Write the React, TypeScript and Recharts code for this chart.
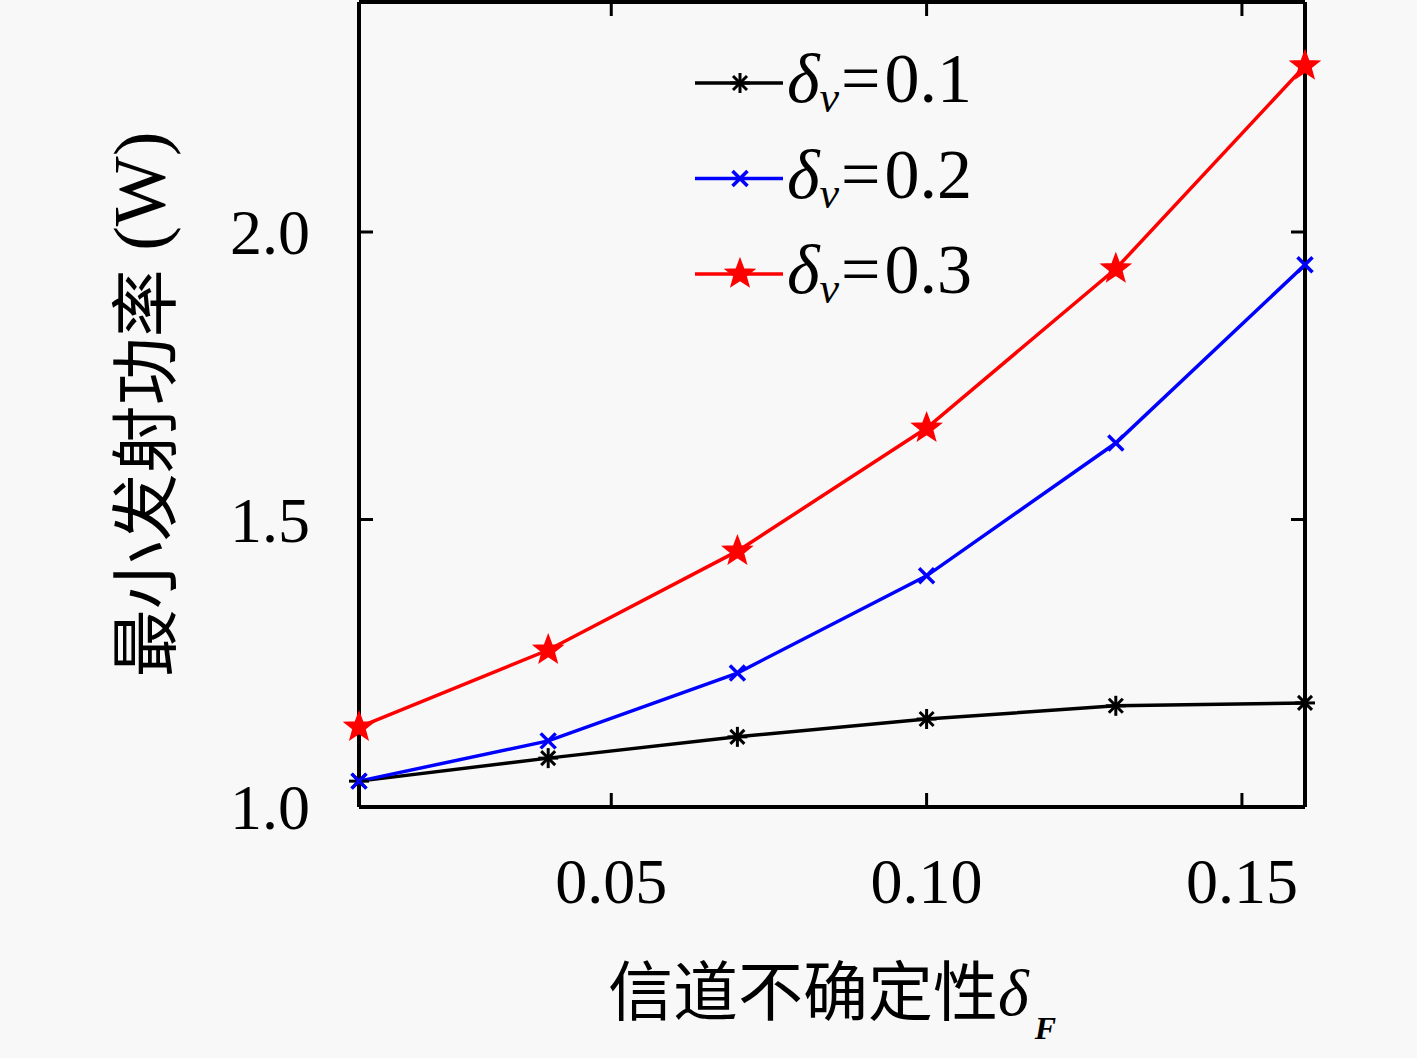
import React from 'react';
import { LineChart, Line, XAxis, YAxis, Legend } from 'recharts';

// channel uncertainty δF (x) and minimum transmit power in W for each δv
const uncertainty = [0.01, 0.04, 0.07, 0.1, 0.13, 0.16];
const powerV01 = [1.045, 1.085, 1.122, 1.153, 1.176, 1.181];
const powerV02 = [1.045, 1.115, 1.233, 1.402, 1.633, 1.943];
const powerV03 = [1.139, 1.273, 1.445, 1.659, 1.936, 2.289];

const seriesLabels = ['0.1', '0.2', '0.3'];
const seriesKeys = ['v01', 'v02', 'v03'];
const seriesColors = ['#000000', '#0000ff', '#ff0000'];

const xTicks = [0.05, 0.1, 0.15];
const yTicks = [1.0, 1.5, 2.0];

const data = uncertainty.map((x, i) => ({
    x,
    v01: powerV01[i],
    v02: powerV02[i],
    v03: powerV03[i],
}));

const SERIF = '"Liberation Serif", "DejaVu Serif", serif';
const CJK = '"Noto Sans CJK SC", sans-serif';
const TICK_LEN = 14;
const AXIS = { stroke: '#000', strokeWidth: 4 };

const Asterisk = ({ cx, cy, color, r = 10 }: any) => (
    <g stroke={color} strokeWidth={3}>
        <line x1={cx - r} y1={cy} x2={cx + r} y2={cy} />
        <line x1={cx} y1={cy - r} x2={cx} y2={cy + r} />
        <line x1={cx - r * 0.7} y1={cy - r * 0.7} x2={cx + r * 0.7} y2={cy + r * 0.7} />
        <line x1={cx - r * 0.7} y1={cy + r * 0.7} x2={cx + r * 0.7} y2={cy - r * 0.7} />
    </g>
);

const Cross = ({ cx, cy, color, r = 7.5 }: any) => (
    <g stroke={color} strokeWidth={3.5}>
        <line x1={cx - r} y1={cy - r} x2={cx + r} y2={cy + r} />
        <line x1={cx - r} y1={cy + r} x2={cx + r} y2={cy - r} />
    </g>
);

const Star = ({ cx, cy, color, r = 15 }: any) => {
    const pts: string[] = [];
    for (let k = 0; k < 10; k++) {
        const rad = k % 2 === 0 ? r : r * 0.42;
        const a = -Math.PI / 2 + (k * Math.PI) / 5;
        pts.push(`${cx + rad * Math.cos(a)},${cy + rad * Math.sin(a)}`);
    }
    return <polygon points={pts.join(' ')} fill={color} stroke={color} strokeWidth={1.5} />;
};

const markers = [Asterisk, Cross, Star];

const makeDot = (idx: number) => (props: any) => {
    const M = markers[idx];
    if (props.cx == null || props.cy == null) return <g key={`d${idx}-${props.index}`} />;
    return <M key={`d${idx}-${props.index}`} cx={props.cx} cy={props.cy} color={seriesColors[idx]} />;
};

const BottomTick = ({ x, y, payload }: any) => (
    <g>
        <line x1={x} y1={y} x2={x} y2={y - TICK_LEN} stroke="#000" strokeWidth={3} />
        <text x={x} y={y + 96} textAnchor="middle" fontFamily={SERIF} fontSize={64} fill="#000">
            {Number(payload.value).toFixed(2)}
        </text>
    </g>
);

const LeftTick = ({ x, y, payload }: any) => (
    <g>
        <line x1={x} y1={y} x2={x + TICK_LEN} y2={y} stroke="#000" strokeWidth={3} />
        <text x={x - 49} y={y + 22} textAnchor="end" fontFamily={SERIF} fontSize={64} fill="#000">
            {Number(payload.value).toFixed(1)}
        </text>
    </g>
);

const TopTick = ({ x, y }: any) => (
    <line x1={x} y1={y} x2={x} y2={y + TICK_LEN} stroke="#000" strokeWidth={3} />
);

const RightTick = ({ x, y }: any) => (
    <line x1={x} y1={y} x2={x - TICK_LEN} y2={y} stroke="#000" strokeWidth={3} />
);

const YTitle = ({ viewBox }: any) => {
    const cx = viewBox.x + 140;
    const cy = viewBox.y + viewBox.height / 2;
    return (
        <text
            x={cx}
            y={cy}
            transform={`rotate(-90, ${cx}, ${cy})`}
            textAnchor="middle"
            dominantBaseline="central"
            fill="#000"
            fontSize={68}
        >
            <tspan fontFamily={CJK}>最小发射功率</tspan>
            <tspan fontFamily={SERIF} fontSize={74}> (W)</tspan>
        </text>
    );
};

const XTitle = ({ viewBox }: any) => {
    const cx = viewBox.x + viewBox.width / 2;
    return (
        <text x={cx} y={1015} textAnchor="middle" fill="#000" fontSize={65}>
            <tspan fontFamily={CJK}>信道不确定性</tspan>
            <tspan fontFamily={SERIF} fontStyle="italic" fontSize={66}>δ</tspan>
            <tspan fontFamily={SERIF} fontStyle="italic" fontWeight="bold" fontSize={32} dx={6} dy={24}>F</tspan>
        </text>
    );
};

// legend rows follow the series order, not the payload (the mirrored-axis helper line is left out)
const LegendContent = () => (
    <svg width={330} height={290}>
        {seriesKeys.map((key, i) => {
            const M = markers[i];
            const base = 62 + i * 95.5;
            const ly = base - 19;
            return (
                <g key={key}>
                    <line x1={5} y1={ly} x2={93} y2={ly} stroke={seriesColors[i]} strokeWidth={3.5} />
                    <M cx={50} cy={ly} color={seriesColors[i]} />
                    <text x={97} y={base} fontFamily={SERIF} fontSize={70} fill="#000">
                        <tspan fontStyle="italic">δ</tspan>
                        <tspan fontStyle="italic" fontSize={44} dy={10}>v</tspan>
                        <tspan dy={-10} dx={2}>=</tspan>
                        <tspan dx={4}>{seriesLabels[i]}</tspan>
                    </text>
                </g>
            );
        })}
    </svg>
);

const App: React.FC = () => {
    return (
        <div style={{ position: 'absolute', left: 0, top: 0, width: 1417, height: 1058, background: '#f8f8f8' }}>
            <LineChart width={1417} height={1058} data={data} margin={{ top: 1, right: 111, left: 0, bottom: 0 }}>
                <XAxis
                    dataKey="x"
                    type="number"
                    domain={[0.01, 0.16]}
                    ticks={xTicks}
                    interval={0}
                    height={251}
                    tickSize={0}
                    tickMargin={0}
                    tick={<BottomTick />}
                    axisLine={AXIS}
                    label={<XTitle />}
                />
                <XAxis
                    xAxisId="top"
                    orientation="top"
                    dataKey="x"
                    type="number"
                    domain={[0.01, 0.16]}
                    ticks={xTicks}
                    interval={0}
                    height={1}
                    tickSize={0}
                    tickMargin={0}
                    tick={<TopTick />}
                    axisLine={AXIS}
                />
                <YAxis
                    type="number"
                    domain={[1.0, 2.4]}
                    ticks={yTicks}
                    interval={0}
                    width={359}
                    tickSize={0}
                    tickMargin={0}
                    tick={<LeftTick />}
                    axisLine={AXIS}
                    label={<YTitle />}
                />
                <YAxis
                    yAxisId="right"
                    orientation="right"
                    type="number"
                    domain={[1.0, 2.4]}
                    ticks={yTicks}
                    interval={0}
                    width={1}
                    tickSize={0}
                    tickMargin={0}
                    tick={<RightTick />}
                    axisLine={AXIS}
                />
                <Legend
                    layout="vertical"
                    align="center"
                    verticalAlign="middle"
                    content={<LegendContent />}
                    wrapperStyle={{ position: 'absolute', top: 40, left: 690, width: 330, height: 290 }}
                />
                {/* invisible copy so the mirrored top/right axes get a series */}
                <Line
                    dataKey="v01"
                    xAxisId="top"
                    yAxisId="right"
                    stroke="none"
                    strokeOpacity={0}
                    dot={false}
                    activeDot={false}
                    legendType="none"
                    isAnimationActive={false}
                />
                {seriesKeys.map((key, i) => (
                    <Line
                        key={key}
                        dataKey={key}
                        name={`δv=${seriesLabels[i]}`}
                        stroke={seriesColors[i]}
                        strokeWidth={3.5}
                        dot={makeDot(i)}
                        activeDot={false}
                        isAnimationActive={false}
                    />
                ))}
            </LineChart>
        </div>
    );
};

export default App;
